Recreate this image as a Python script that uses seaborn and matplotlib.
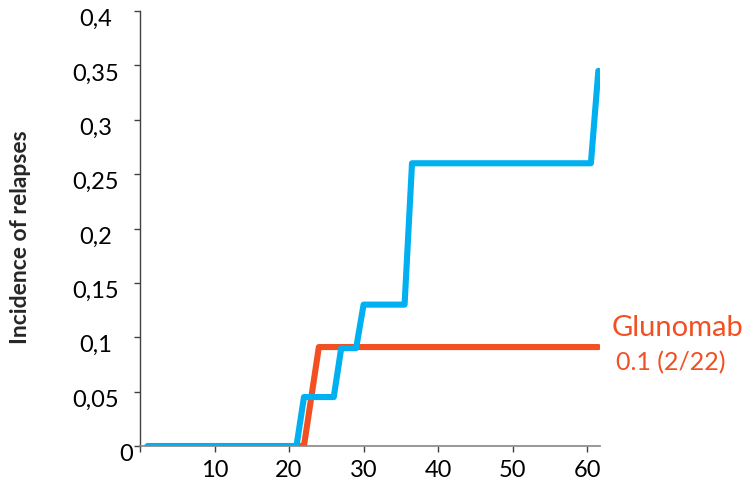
import matplotlib
matplotlib.use("Agg")
import matplotlib.pyplot as plt
import matplotlib.transforms as mtransforms
import seaborn as sns
import pandas as pd
from matplotlib.ticker import FuncFormatter, MultipleLocator

# Data
months_blue = [1, 21, 22, 26, 27, 29, 30, 35.5, 36.5, 60.5, 61.5]
incidence_blue = [0, 0, 0.045, 0.045, 0.09, 0.09, 0.13, 0.13, 0.26, 0.26, 0.345]

months_red = [21.5, 22, 24, 61.5]
incidence_red = [0, 0, 0.091, 0.091]

label_red = "Glunomab"
label_red_sub = "0.1 (2/22)"
y_title = "Incidence of relapses"

BLUE = "#00B0F0"
RED = "#F25022"

sns.set_style("white")
plt.rcParams['font.family'] = ['Lato', 'DejaVu Sans']

df_blue = pd.DataFrame({'month': months_blue, 'incidence': incidence_blue})
df_red = pd.DataFrame({'month': months_red, 'incidence': incidence_red})

fig = plt.figure(figsize=(7.47, 4.92), dpi=100)
ax = fig.add_axes([0.1874, 0.0935, 0.803 - 0.1874, 0.9776 - 0.0935])

sns.lineplot(data=df_red, x='month', y='incidence', ax=ax, color=RED,
             linewidth=4.4, estimator=None, sort=False)
sns.lineplot(data=df_blue, x='month', y='incidence', ax=ax, color=BLUE,
             linewidth=4.4, estimator=None, sort=False)

ax.set_xlim(0, 61.7)
ax.set_ylim(0, 0.4)
ax.xaxis.set_major_locator(MultipleLocator(10))
ax.yaxis.set_major_locator(MultipleLocator(0.05))
ax.xaxis.set_major_formatter(FuncFormatter(lambda v, p: '' if v == 0 else '%g' % v))
ax.yaxis.set_major_formatter(FuncFormatter(lambda v, p: ('%g' % round(v, 2)).replace('.', ',')))

for s in ['top', 'right']:
    ax.spines[s].set_visible(False)
ax.spines['left'].set_color('#404040')
ax.spines['bottom'].set_color('#868686')
ax.spines['left'].set_linewidth(1)
ax.spines['bottom'].set_linewidth(1.2)

ax.tick_params(axis='both', which='major', direction='out', length=4, width=1,
               labelsize=17, colors='#404040', labelcolor='black', bottom=True, left=True)
ax.tick_params(axis='x', pad=6)
# y labels are centred in a column, like the original
ax.tick_params(axis='y', pad=28)
for lbl in ax.get_yticklabels():
    lbl.set_horizontalalignment('center')

fig.canvas.draw()
down = mtransforms.ScaledTranslation(0, -6.5 / 100, fig.dpi_scale_trans)
for lbl in ax.get_yticklabels():
    lbl.set_transform(lbl.get_transform() + down)
    if lbl.get_text() == '0':
        lbl.set_horizontalalignment('right')
        lbl.set_transform(lbl.get_transform()
                          + mtransforms.ScaledTranslation(37 / 100, 0, fig.dpi_scale_trans))

ax.set_xlabel('')
ax.set_ylabel('')
fig.text(21 / 747, 1 - 237 / 492, y_title, rotation=90, fontsize=16.5,
         fontweight='bold', ha='center', va='center')

ax.text(63.3, 0.1086, label_red, color=RED, fontsize=21, va='center', ha='left', clip_on=False)
ax.text(63.9, 0.0764, label_red_sub, color=RED, fontsize=18, va='center', ha='left', clip_on=False)

fig.savefig('out.png', dpi=100)
